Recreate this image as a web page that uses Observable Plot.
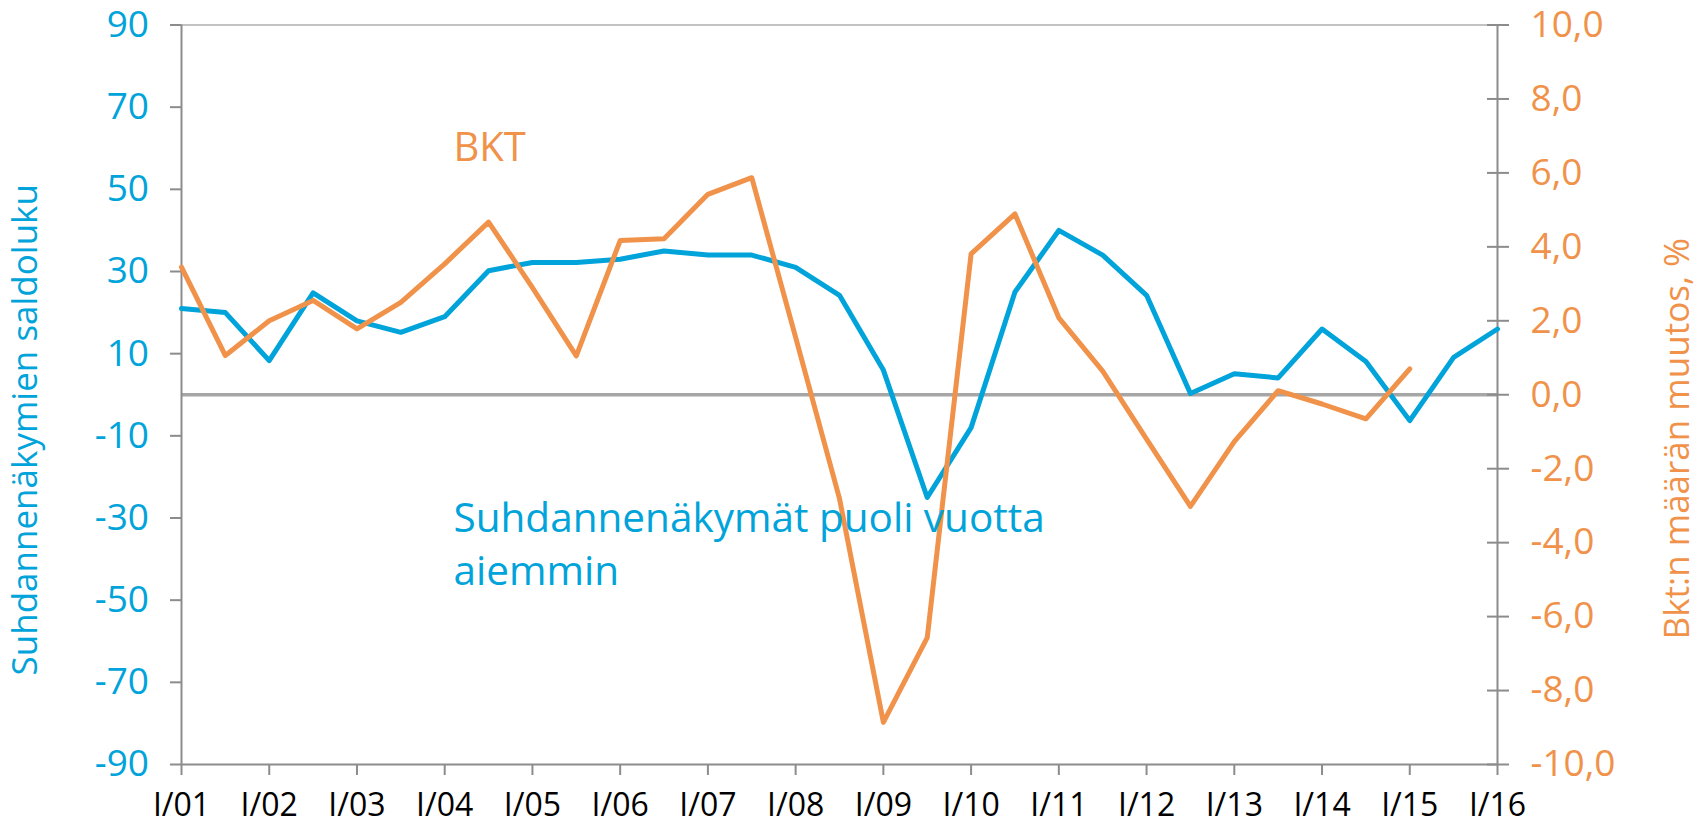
<!DOCTYPE html>
<html>
<head>
<meta charset="utf-8">
<script src="https://cdn.jsdelivr.net/npm/d3@7"></script>
<script src="https://cdn.jsdelivr.net/npm/@observablehq/plot@0.6"></script>
<style>
  html, body { margin: 0; padding: 0; background: #ffffff; }
  #chart { width: 1705px; height: 827px; }
</style>
</head>
<body>
<div id="chart"></div>
<script>
// Half-year observation points (I and III quarter of each year)
const periods = [
  2001, 2001.5, 2002, 2002.5, 2003, 2003.5, 2004, 2004.5, 2005, 2005.5,
  2006, 2006.5, 2007, 2007.5, 2008, 2008.5, 2009, 2009.5, 2010, 2010.5,
  2011, 2011.5, 2012, 2012.5, 2013, 2013.5, 2014, 2014.5, 2015, 2015.5, 2016
];
// Suhdannenäkymät puoli vuotta aiemmin (saldoluku, left axis)
const outlook = [
  21, 20, 8.3, 24.8, 18, 15.2, 19, 30.2, 32.2, 32.2,
  33, 35, 34, 34, 31, 24.2, 6, -25, -8, 25,
  40, 34, 24.2, 0.3, 5.1, 4.1, 16, 8.1, -6.3, 9.1, 16
];
// BKT, määrän muutos % (right axis)
const gdp = [
  3.45, 1.06, 2.0, 2.55, 1.78, 2.5, 3.54, 4.67, 2.9, 1.05,
  4.17, 4.22, 5.42, 5.87, 1.55, -2.81, -8.86, -6.57, 3.81, 4.89,
  2.08, 0.64, -1.2, -3.02, -1.27, 0.11, -0.25, -0.65, 0.7
];

const xTickValues = [2001, 2002, 2003, 2004, 2005, 2006, 2007, 2008, 2009, 2010, 2011, 2012, 2013, 2014, 2015, 2016];
const xTickLabels = ["I/01", "I/02", "I/03", "I/04", "I/05", "I/06", "I/07", "I/08", "I/09", "I/10", "I/11", "I/12", "I/13", "I/14", "I/15", "I/16"];
const leftTicks = [-90, -70, -50, -30, -10, 10, 30, 50, 70, 90];
const rightTicks = [-10, -8, -6, -4, -2, 0, 2, 4, 6, 8, 10];
const rightTickLabels = ["-10,0", "-8,0", "-6,0", "-4,0", "-2,0", "0,0", "2,0", "4,0", "6,0", "8,0", "10,0"];

const leftTitle = "Suhdannenäkymien saldoluku";
const rightTitle = "Bkt:n määrän muutos, %";
const gdpLabel = "BKT";
const outlookLabel = "Suhdannenäkymät puoli vuotta\naiemmin";

// styling / placement
const BLUE = "#00a3da", ORANGE = "#f0924a", AXIS = "#8c8c8c", ZERO = "#a6a6a6", FRAME = "#c2c2c2";
const FONT = "'Open Sans', 'Noto Sans', sans-serif";
const RIGHT_FACTOR = 9; // right axis ±10 maps onto left axis ±90
const labelPos = { gdp: { x: 2004.1, y: 63.8 }, outlook: { x: 2004.1, y: -24.3 } };

const outlookData = outlook.map((v, i) => ({ x: periods[i], y: v }));
const gdpData = gdp.map((v, i) => ({ x: periods[i], y: v * RIGHT_FACTOR }));

const chart = Plot.plot({
  width: 1705,
  height: 827,
  marginLeft: 181,
  marginRight: 208,
  marginTop: 24.5,
  marginBottom: 63,
  style: { fontFamily: FONT, background: "#ffffff", overflow: "visible" },
  x: { domain: [2001, 2016] },
  y: { domain: [-90, 90] },
  marks: [
    Plot.ruleY([90], { stroke: FRAME, strokeWidth: 2 }),
    Plot.ruleY([0], { stroke: ZERO, strokeWidth: 3.3 }),
    Plot.ruleY([-90], { stroke: AXIS, strokeWidth: 2 }),
    Plot.ruleX([2001, 2016], { stroke: AXIS, strokeWidth: 2 }),

    Plot.axisX({
      ticks: xTickValues,
      tickFormat: d => xTickLabels[xTickValues.indexOf(d)],
      tickSize: 11, tickPadding: 18,
      stroke: AXIS, strokeWidth: 2, fill: "#000000",
      fontSize: 32, label: null
    }),
    Plot.axisY({
      anchor: "left",
      ticks: leftTicks,
      tickFormat: d => String(d),
      tickSize: 11, tickPadding: 21.5,
      stroke: AXIS, strokeWidth: 2, fill: BLUE,
      fontSize: 37, label: null
    }),
    Plot.axisY({
      anchor: "right",
      ticks: rightTicks.map(t => t * RIGHT_FACTOR),
      tickFormat: d => rightTickLabels[rightTicks.indexOf(Math.round(d / RIGHT_FACTOR))],
      tickSize: 11, tickPadding: 22,
      stroke: AXIS, strokeWidth: 2, fill: ORANGE,
      fontSize: 37, label: null
    }),
    Plot.axisY({
      anchor: "right",
      ticks: rightTicks.map(t => t * RIGHT_FACTOR),
      tickSize: -11,
      stroke: AXIS, strokeWidth: 2, fill: "none",
      label: null
    }),

    Plot.line(outlookData, { x: "x", y: "y", stroke: BLUE, strokeWidth: 5, strokeLinejoin: "round" }),
    Plot.line(gdpData, { x: "x", y: "y", stroke: ORANGE, strokeWidth: 5, strokeLinejoin: "round" }),

    Plot.text([gdpLabel], {
      x: labelPos.gdp.x, y: labelPos.gdp.y, text: d => d,
      textAnchor: "start", lineAnchor: "top", fill: ORANGE, fontSize: 40
    }),
    Plot.text([outlookLabel], {
      x: labelPos.outlook.x, y: labelPos.outlook.y, text: d => d,
      textAnchor: "start", lineAnchor: "top", lineHeight: 1.3, fill: BLUE, fontSize: 40.5
    }),

    Plot.text([leftTitle], {
      frameAnchor: "left", text: d => d, rotate: -90, textAnchor: "middle",
      lineAnchor: "bottom", dx: -145, dy: 35, fill: BLUE, fontSize: 35
    }),
    Plot.text([rightTitle], {
      frameAnchor: "right", text: d => d, rotate: -90, textAnchor: "middle",
      lineAnchor: "bottom", dx: 191, dy: 44, fill: ORANGE, fontSize: 35
    })
  ]
});

document.getElementById("chart").appendChild(chart);
</script>
</body>
</html>
